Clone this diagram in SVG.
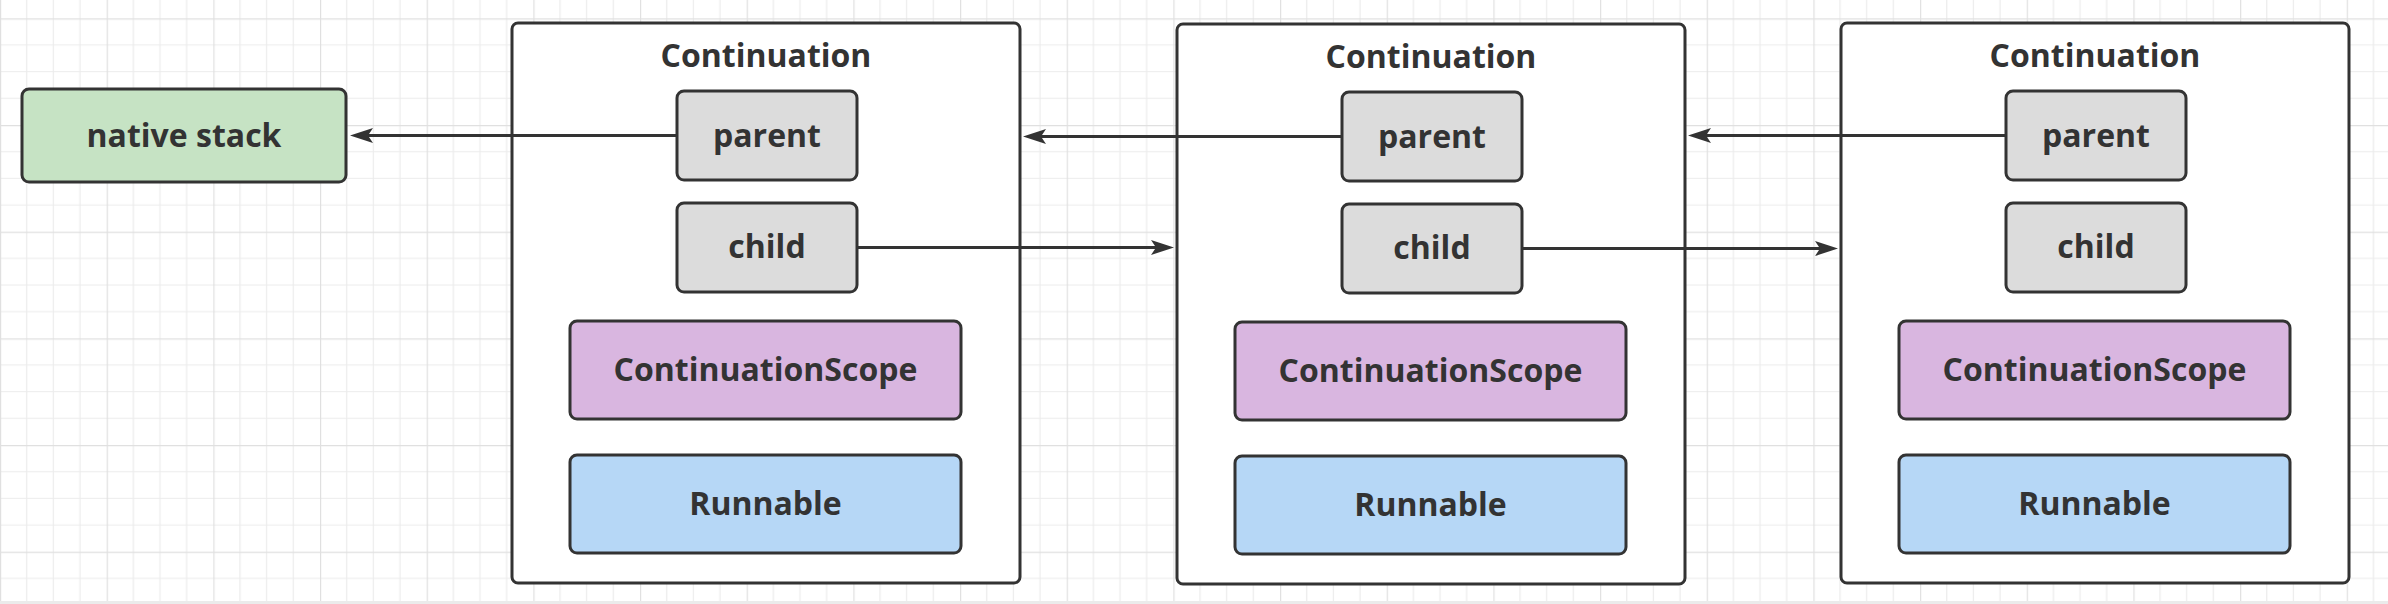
<svg xmlns="http://www.w3.org/2000/svg" width="2388" height="604" viewBox="0 0 2388 604">
<style>
.box{stroke:#333;stroke-width:3}
.cont{fill:#fff;stroke:#333;stroke-width:3}
.ref{fill:#dcdcdc}
.scope{fill:#d9b6e0}
.run{fill:#b6d7f6}
.native{fill:#c6e3c4}
.t{font-family:"Open Sans","Noto Sans","Liberation Sans",sans-serif;font-weight:700;font-size:32px;fill:#333;text-anchor:middle}
.conn{stroke:#333;stroke-width:3;fill:none}
</style>
<defs>
<pattern id="grid" x="0" y="18.33" width="106.67" height="106.67" patternUnits="userSpaceOnUse">
<path d="M26.67 0V106.67M53.33 0V106.67M80 0V106.67M0 26.67H106.67M0 53.33H106.67M0 80H106.67" stroke="#ececec" stroke-width="1.2" fill="none"/>
<path d="M0.6 0V106.67M0 0.6H106.67" stroke="#e0e0e0" stroke-width="1.2" fill="none"/>
</pattern>
<marker id="arrow" markerUnits="userSpaceOnUse" markerWidth="26" markerHeight="18" refX="5" refY="8" orient="auto" overflow="visible">
<path d="M0 0.5L23 8L0 15.5L5 8z" fill="#333"/>
</marker>
</defs>
<rect width="2388" height="604" fill="#fff"/>
<rect width="2388" height="604" fill="url(#grid)"/>
<rect x="0" y="601" width="2388" height="3" fill="#ebebeb"/>

<g id="native-stack">
<rect class="box native" x="22" y="89" width="324" height="93" rx="7"/>
<text class="t" x="184" y="146.5">native stack</text>
</g>

<g id="continuation-1">
<rect class="cont" x="512" y="23" width="508" height="560" rx="6"/>
<text class="t" x="766" y="67">Continuation</text>
<g id="parent-1"><rect class="box ref" x="677" y="91" width="180" height="89" rx="7"/><text class="t" x="767" y="146.5">parent</text></g>
<g id="child-1"><rect class="box ref" x="677" y="203" width="180" height="89" rx="7"/><text class="t" x="767" y="258">child</text></g>
<g id="scope-1"><rect class="box scope" x="570" y="321" width="391" height="98" rx="7"/><text class="t" x="765.5" y="381">ContinuationScope</text></g>
<g id="runnable-1"><rect class="box run" x="570" y="455" width="391" height="98" rx="7"/><text class="t" x="765.5" y="515">Runnable</text></g>
</g>

<g id="continuation-2" transform="translate(665,1)">
<rect class="cont" x="512" y="23" width="508" height="560" rx="6"/>
<text class="t" x="766" y="67">Continuation</text>
<g id="parent-2"><rect class="box ref" x="677" y="91" width="180" height="89" rx="7"/><text class="t" x="767" y="146.5">parent</text></g>
<g id="child-2"><rect class="box ref" x="677" y="203" width="180" height="89" rx="7"/><text class="t" x="767" y="258">child</text></g>
<g id="scope-2"><rect class="box scope" x="570" y="321" width="391" height="98" rx="7"/><text class="t" x="765.5" y="381">ContinuationScope</text></g>
<g id="runnable-2"><rect class="box run" x="570" y="455" width="391" height="98" rx="7"/><text class="t" x="765.5" y="515">Runnable</text></g>
</g>

<g id="continuation-3" transform="translate(1329,0)">
<rect class="cont" x="512" y="23" width="508" height="560" rx="6"/>
<text class="t" x="766" y="67">Continuation</text>
<g id="parent-3"><rect class="box ref" x="677" y="91" width="180" height="89" rx="7"/><text class="t" x="767" y="146.5">parent</text></g>
<g id="child-3"><rect class="box ref" x="677" y="203" width="180" height="89" rx="7"/><text class="t" x="767" y="258">child</text></g>
<g id="scope-3"><rect class="box scope" x="570" y="321" width="391" height="98" rx="7"/><text class="t" x="765.5" y="381">ContinuationScope</text></g>
<g id="runnable-3"><rect class="box run" x="570" y="455" width="391" height="98" rx="7"/><text class="t" x="765.5" y="515">Runnable</text></g>
</g>

<g id="connectors">
<path class="conn" d="M676 135.5H368" marker-end="url(#arrow)"/>
<path class="conn" d="M1341 136.5H1041" marker-end="url(#arrow)"/>
<path class="conn" d="M858 247.5H1156" marker-end="url(#arrow)"/>
<path class="conn" d="M1523 248.5H1820" marker-end="url(#arrow)"/>
<path class="conn" d="M2005 135.5H1706" marker-end="url(#arrow)"/>
</g>
</svg>
